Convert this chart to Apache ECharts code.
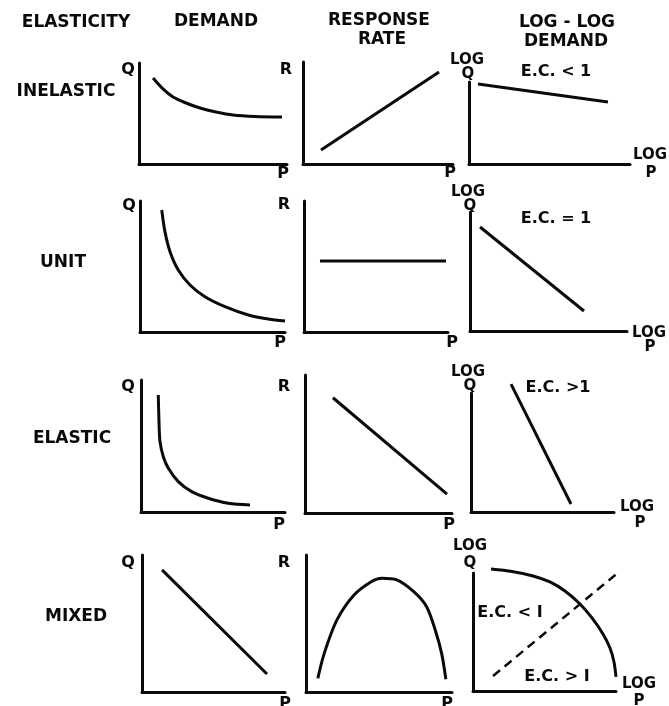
<!DOCTYPE html>
<html>
<head>
<meta charset="utf-8">
<script src="https://cdn.jsdelivr.net/npm/echarts@6/dist/echarts.min.js"></script>
<style>
html,body{margin:0;padding:0;background:#fff;}
#chart{width:669px;height:706px;}
</style>
</head>
<body>
<div id="chart"></div>
<script>
// ---- Data (values on a 0-100 relative scale of each small panel) ----
const columnHeaders = ['DEMAND', 'RESPONSE\nRATE', 'LOG - LOG\nDEMAND'];
const rowLabels = ['INELASTIC', 'UNIT', 'ELASTIC', 'MIXED'];
const ecLabels = ['E.C. < 1', 'E.C. = 1', 'E.C. >1'];
const mixedEcLabels = ['E.C. < I', 'E.C. > I'];

const inelasticDemand = [[9.5,85.1],[16.2,74.3],[23.0,66.3],[31.8,60.4],[41.2,55.4],[52.0,51.5],[63.5,48.5],[78.4,47.0],[96.6,46.5]];
const inelasticResponse = [[12.0,13.7],[90.7,90.2]];
const inelasticLogLog = [[5.6,97.6],[86.3,75.6]];

const unitDemand = [[15.0,93.1],[17.2,76.6],[20.7,61.3],[26.4,47.3],[34.5,35.9],[44.8,26.9],[58.6,19.3],[74.7,13.0],[88.5,9.9],[100,8.4]];
const unitResponse = [[11.1,54.2],[98.6,54.2]];
const unitLogLog = [[6.4,87.4],[72.6,16.8]];

const elasticDemand = [[12.0,88.6],[12.5,68.4],[13.2,53.3],[15.5,41.9],[19.0,33.1],[25.9,23.0],[35.2,15.4],[46.7,10.4],[60.6,6.6],[75.7,5.3]];
const elasticResponse = [[19.0,83.5],[96.6,13.7]];
const elasticLogLog = [[28.0,107.5],[69.9,6.7]];

const mixedDemand = [[14.0,89.1],[87.4,13.1]];
const mixedResponse = [[8.1,10.0],[12.5,28.2],[21.2,52.6],[32.9,70.8],[44.7,80.5],[51.9,83.0],[62.2,81.8],[73.8,73.2],[82.6,62.3],[88.5,45.3],[92.9,28.2],[95.8,9.3]];
const mixedLogLog = [[12.6,103.4],[27.3,101.3],[42.0,97.5],[53.8,92.4],[64.3,84.7],[74.8,73.7],[83.2,61.9],[90.9,48.3],[95.8,36.4],[98.6,24.6],[100,11.9]];
const mixedBoundary = [[14.0,12.7],[107.0,105.9]];

// ---- Layout (pixel boxes of each panel's axes) ----
const gridBoxes = [
  [139,63,148,101],[303,62,150,102],[469,82,161,82],
  [140,201,145,131],[304,201,144,131],[470,212,157,119],
  [141,380,144,132],[305,375,147,138],[471,393,143,119],
  [142,555,143,137],[306,555,146,137],[473,573,143,118]
];
const panelData = [
  [inelasticDemand, true],[inelasticResponse,false],[inelasticLogLog,false],
  [unitDemand,true],[unitResponse,false],[unitLogLog,false],
  [elasticDemand,true],[elasticResponse,false],[elasticLogLog,false],
  [mixedDemand,false],[mixedResponse,true],[mixedLogLog,true]
];

const FONT = '"DejaVu Sans", sans-serif';
const ink = '#0a0a0a';
const axisStyle = {show:true,onZero:false,lineStyle:{color:ink,width:3}};

const grid = [], xAxis = [], yAxis = [], series = [];
gridBoxes.forEach((b,i)=>{
  grid.push({left:b[0],top:b[1],width:b[2],height:b[3],containLabel:false});
  xAxis.push({type:'value',gridIndex:i,min:0,max:100,axisLine:axisStyle,axisTick:{show:false},axisLabel:{show:false},splitLine:{show:false}});
  yAxis.push({type:'value',gridIndex:i,min:0,max:100,axisLine:axisStyle,axisTick:{show:false},axisLabel:{show:false},splitLine:{show:false}});
  series.push({type:'line',xAxisIndex:i,yAxisIndex:i,data:panelData[i][0],
    smooth:panelData[i][1]?0.3:false,
    showSymbol:false,symbol:'none',clip:false,silent:true,lineStyle:{color:ink,width:3}});
});
series.push({type:'line',xAxisIndex:11,yAxisIndex:11,data:mixedBoundary,showSymbol:false,symbol:'none',clip:false,silent:true,
  lineStyle:{color:ink,width:2.5,type:[9,6]}});

function txt(s,x,y,size){
  return {type:'text',x:x,y:y,silent:true,style:{text:s,fill:ink,font:'bold '+(size||17)+'px '+FONT,align:'center',verticalAlign:'middle'}};
}
const g = [];
g.push(txt('ELASTICITY',76,23));
g.push(txt(columnHeaders[0],216,22));
g.push(txt('RESPONSE',379,21)); g.push(txt('RATE',382,40));
g.push(txt('LOG - LOG',567,23)); g.push(txt('DEMAND',566,42));
g.push(txt(rowLabels[0],66,92)); g.push(txt(rowLabels[1],63,263));
g.push(txt(rowLabels[2],72,439)); g.push(txt(rowLabels[3],76,617));
// axis letters per row
const rowAxisText = [
  {Q:[128,70],R:[286,70],LOG:[467,60],LQ:[468,74],P1:[283,174],P2:[450,173],LP:[650,155],PP:[651,173]},
  {Q:[129,206],R:[284,205],LOG:[468,192],LQ:[470,206],P1:[280,343],P2:[452,343],LP:[649,333],PP:[650,347]},
  {Q:[128,387],R:[284,387],LOG:[468,372],LQ:[470,386],P1:[279,525],P2:[449,525],LP:[637,507],PP:[640,523]},
  {Q:[128,563],R:[284,563],LOG:[470,546],LQ:[470,563],P1:[285,704],P2:[447,704],LP:[639,684],PP:[639,701]}
];
rowAxisText.forEach(r=>{
  g.push(txt('Q',r.Q[0],r.Q[1],16)); g.push(txt('R',r.R[0],r.R[1],16));
  g.push(txt('LOG',r.LOG[0],r.LOG[1],15)); g.push(txt('Q',r.LQ[0],r.LQ[1],15));
  g.push(txt('P',r.P1[0],r.P1[1],16)); g.push(txt('P',r.P2[0],r.P2[1],16));
  g.push(txt('LOG',r.LP[0],r.LP[1],15)); g.push(txt('P',r.PP[0],r.PP[1],15));
});
g.push(txt(ecLabels[0],556,72,16));
g.push(txt(ecLabels[1],556,219,16));
g.push(txt(ecLabels[2],558,388,16));
g.push(txt(mixedEcLabels[0],510,613,16));
g.push(txt(mixedEcLabels[1],557,677,16));

const chart = echarts.init(document.getElementById('chart'),null,{renderer:'canvas'});
chart.setOption({animation:false,backgroundColor:'#fff',grid,xAxis,yAxis,series,graphic:g});
</script>
</body>
</html>
